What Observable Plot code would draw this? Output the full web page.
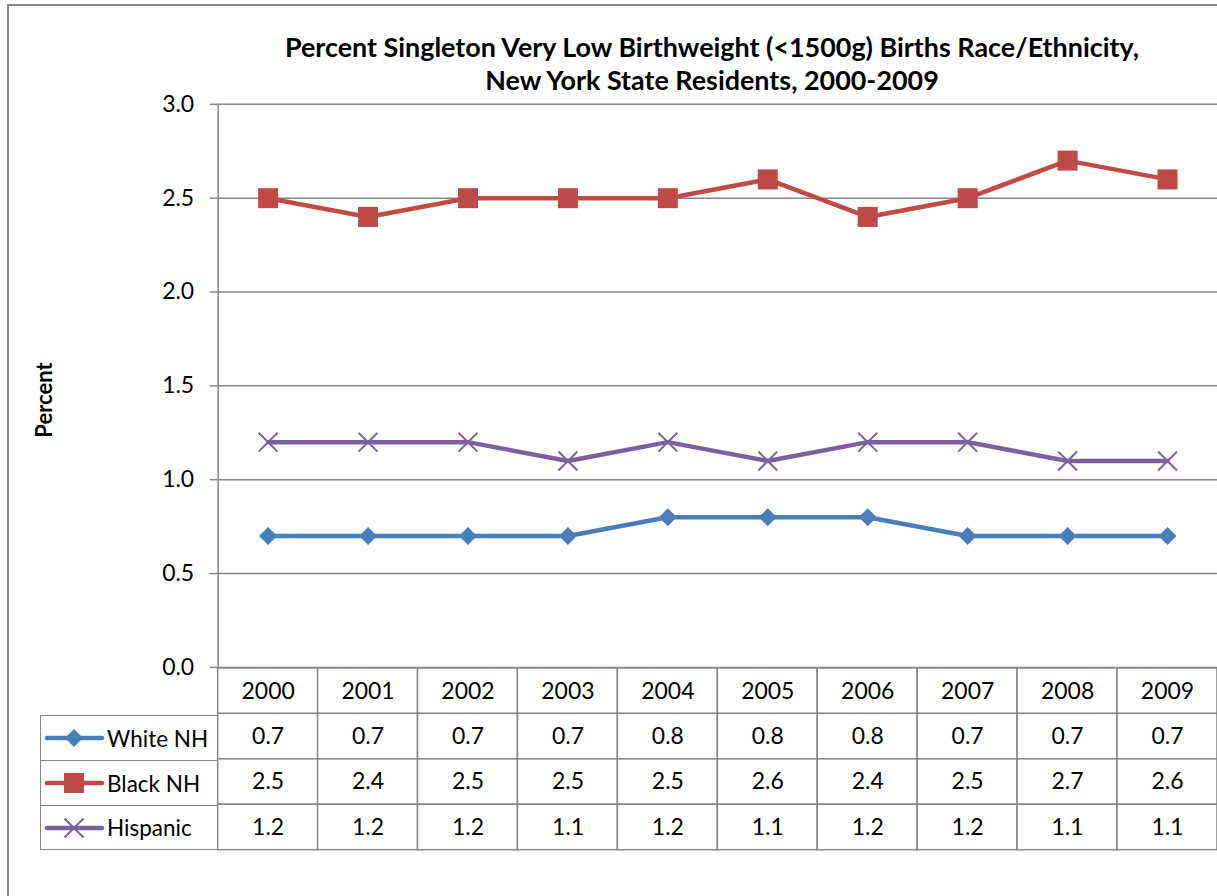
<!DOCTYPE html>
<html>
<head>
<meta charset="utf-8">
<script src="https://cdn.jsdelivr.net/npm/d3@7"></script>
<script src="https://cdn.jsdelivr.net/npm/@observablehq/plot@0.6"></script>
<style>
  html, body { margin: 0; padding: 0; background: #fff; overflow: hidden; }
  #root { position: relative; width: 1217px; height: 896px; font-family: Lato, "DejaVu Sans", sans-serif; color: #000; }
  #frame { position: absolute; left: 7px; top: 4px; width: 1400px; height: 1200px; border: 2px solid #888; box-sizing: border-box; }
  #title { position: absolute; left: 212px; width: 1000px; top: 30px; text-align: center; font-weight: bold; font-size: 26.9px; line-height: 33px; }
  #ylabel { position: absolute; left: 43px; top: 400px; transform: translate(-50%, -50%) rotate(-90deg); font-weight: bold; font-size: 22px; white-space: nowrap; }
  #chart { position: absolute; left: 0; top: 0; }
  #table { position: absolute; left: 0; top: 668px; }
  #legend { position: absolute; left: 40px; top: 715px; width: 178px; box-sizing: border-box; border-left: 1.5px solid #868686; }
  .lrow { height: 45px; box-sizing: border-box; border-top: 1.5px solid #868686; display: flex; align-items: center; font-size: 22.5px; }
  .lrow:last-child { border-bottom: 1.5px solid #868686; }
  .lrow svg { flex: none; }
</style>
</head>
<body>
<div id="root">
  <div id="frame"></div>
  <div id="title">Percent Singleton Very Low Birthweight (&lt;1500g) Births Race/Ethnicity,<br>New York State Residents, 2000-2009</div>
  <div id="ylabel">Percent</div>
  <div id="chart"></div>
  <div id="table"></div>
  <div id="legend"></div>
</div>
<script>
// ---- data ----
const years = [2000, 2001, 2002, 2003, 2004, 2005, 2006, 2007, 2008, 2009];
const seriesNames = ["White NH", "Black NH", "Hispanic"];
const whiteNH = [0.7, 0.7, 0.7, 0.7, 0.8, 0.8, 0.8, 0.7, 0.7, 0.7];
const blackNH = [2.5, 2.4, 2.5, 2.5, 2.5, 2.6, 2.4, 2.5, 2.7, 2.6];
const hispanic = [1.2, 1.2, 1.2, 1.1, 1.2, 1.1, 1.2, 1.2, 1.1, 1.1];
const yTicks = [0, 0.5, 1.0, 1.5, 2.0, 2.5, 3.0];

// ---- styles ----
const colors = ["#4A7EBB", "#BE4B48", "#7D60A0"];
const symbols = ["diamond2", "square", "times"];
const grey = "#868686";

const valuesBySeries = [whiteNH, blackNH, hispanic];
const rows = [];
seriesNames.forEach((s, i) => years.forEach((y, j) => rows.push({year: y, series: s, value: valuesBySeries[i][j]})));
const fmt = d3.format(".1f");

const chart = Plot.plot({
  width: 1219, height: 670,
  marginLeft: 218, marginRight: 0, marginTop: 104, marginBottom: 2,
  style: {fontFamily: "Lato, sans-serif", fontSize: "23px", background: "transparent", overflow: "visible", color: "#000"},
  x: {type: "band", domain: years, padding: 0, round: false, axis: null},
  y: {domain: [0, 3], axis: null},
  color: {domain: seriesNames, range: colors},
  marks: [
    Plot.gridY(yTicks, {stroke: grey, strokeOpacity: 1, strokeWidth: 1.5}),
    Plot.axisY(yTicks, {tickSize: 8, tickPadding: 16, tickFormat: fmt, stroke: grey, strokeWidth: 1.5, fill: "#000", fontSize: 23, label: null}),
    Plot.frame({anchor: "left", stroke: grey, strokeWidth: 1.5}),
    Plot.line(rows, {x: "year", y: "value", z: "series", stroke: "series", strokeWidth: 4.5}),
    Plot.dot(rows.filter(d => d.series === "White NH"), {x: "year", y: "value", symbol: () => "diamond2", fill: colors[0], stroke: "none", r: 8.1}),
    Plot.dot(rows.filter(d => d.series === "Black NH"), {x: "year", y: "value", symbol: () => "square", fill: colors[1], stroke: "none", r: 11.3}),
    Plot.dot(rows.filter(d => d.series === "Hispanic"), {x: "year", y: "value", symbol: () => "times", stroke: colors[2], strokeWidth: 2, r: 8.7})
  ]
});
document.getElementById("chart").appendChild(chart);

// ---- data table ----
const headerRow = "Year";
const cells = [];
years.forEach(y => cells.push({year: y, row: headerRow, label: String(y)}));
rows.forEach(d => cells.push({year: d.year, row: d.series, label: fmt(d.value)}));

const table = Plot.plot({
  width: 1219, height: 184,
  marginLeft: 218, marginRight: 0, marginTop: 0, marginBottom: 2,
  style: {fontFamily: "Lato, sans-serif", background: "transparent", overflow: "visible", color: "#000"},
  x: {type: "band", domain: years, padding: 0, round: false, axis: null},
  y: {type: "band", domain: [headerRow, ...seriesNames], padding: 0, round: false, axis: null},
  marks: [
    Plot.cell(cells, {x: "year", y: "row", fill: "white", stroke: grey, strokeWidth: 1.5}),
    Plot.text(cells, {x: "year", y: "row", text: "label", fontSize: 23, fill: "#000"})
  ]
});
document.getElementById("table").appendChild(table);

// ---- legend column ----
const legend = d3.select("#legend");
seriesNames.forEach((s, i) => {
  const row = legend.append("div").attr("class", "lrow");
  const svg = row.append("svg").attr("width", 66).attr("height", 44);
  svg.append("line").attr("x1", 6).attr("x2", 61).attr("y1", 22).attr("y2", 22)
    .attr("stroke", colors[i]).attr("stroke-width", 4.5).attr("stroke-linecap", "round");
  const sym = {diamond2: d3.symbolDiamond2, square: d3.symbolSquare, times: d3.symbolTimes}[symbols[i]];
  const size = [206, 400, 238][i];
  const p = svg.append("path").attr("d", d3.symbol(sym, size)()).attr("transform", "translate(33,22)");
  if (symbols[i] === "times") p.attr("fill", "none").attr("stroke", colors[i]).attr("stroke-width", 2);
  else p.attr("fill", colors[i]);
  row.append("span").text(s);
});
</script>
</body>
</html>
